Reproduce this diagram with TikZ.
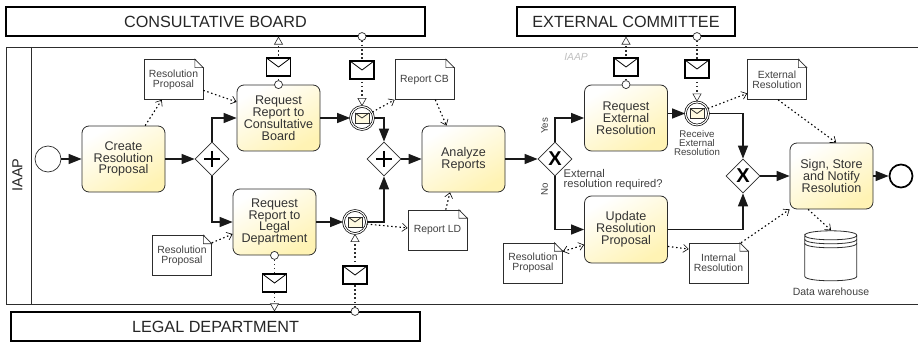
\documentclass[tikz,border=0pt]{standalone}
\usepackage{fontspec}
\setmainfont{Liberation Sans}
\usetikzlibrary{arrows.meta,shapes.geometric}

\definecolor{taskyellow}{RGB}{255,243,180}
\definecolor{linegray}{RGB}{45,45,45}

\tikzset{
    taskbox/.style={draw=linegray, line width=0.8pt, rounded corners=7pt, minimum width=83pt, minimum height=66pt,
        inner sep=0pt, align=center, top color=white, bottom color=taskyellow, shading angle=30,
        font=\fontsize{12.6}{11.9}\selectfont, text=black!80},
    docbox/.style={draw=linegray, line width=0.7pt, fill=white, minimum width=59pt, minimum height=40pt,
        inner sep=0pt, align=center, font=\fontsize{10.4}{10}\selectfont, text=black!75},
    poolbox/.style={draw=black, line width=1.1pt, fill=white, inner sep=0pt, minimum height=29pt,
        font=\fontsize{16.2}{17}\selectfont, text=black!85},
    gateway/.style={draw=linegray, line width=0.7pt, fill=white, diamond, aspect=1, inner sep=0pt, minimum size=34pt},
    plusgate/.style={gateway, path picture={
        \draw[line width=2pt, black] (path picture bounding box.center) ++(-8,0) -- ++(16,0);
        \draw[line width=2pt, black] (path picture bounding box.center) ++(0,-8) -- ++(0,16);}},
    xgate/.style={gateway, font=\bfseries\fontsize{20}{20}\selectfont},
    waitevent/.style={draw=black, circle, line width=0.7pt, double, double distance=1.1pt, fill=white, minimum size=23pt, inner sep=0pt},
    portcircle/.style={draw=linegray, line width=0.7pt, circle, fill=white, minimum size=8pt, inner sep=0pt},
    envelope/.style={draw=black, line width=1.1pt, fill=white, minimum width=24pt, minimum height=18pt, inner sep=0pt, path picture={
        \draw[line width=0.8pt] (path picture bounding box.north west) -- (path picture bounding box.center) -- (path picture bounding box.north east);}},
    smallenvelope/.style={envelope, draw=linegray, line width=0.5pt, fill=taskyellow!40, minimum width=14pt, minimum height=10pt},
    smalltext/.style={inner sep=0pt, align=center, font=\fontsize{9.7}{9.2}\selectfont, text=black!75},
    seqflow/.style={line width=1.2pt, draw=black!90, -{Triangle[length=13pt,width=10pt]}},
    dataflow/.style={line width=1.1pt, dash pattern=on 1.5pt off 2.6pt, -{Straight Barb[length=5pt,width=8pt,line width=0.6pt]}},
    msgflow/.style={line width=1.1pt, dash pattern=on 1.5pt off 2.6pt, draw=linegray, -{Triangle[open,fill=white,length=8pt,width=9pt,line width=0.6pt]}}
}

% a document with a folded corner: name, position, text
\newcommand{\docnode}[3]{
    \node[docbox] (#1) at (#2) {#3};
    \fill[white] (#1.north east) ++(-8.5,-1) -- ++(9.5,0) -- ++(0,10) -- cycle;
    \draw[line width=0.7pt, draw=linegray] (#1.north east) ++(-8.5,0) -- ++(8.5,8.5) -- ++(-8.5,0) -- cycle;
}

\begin{document}
\begin{tikzpicture}[x=1pt,y=-1pt]
    \useasboundingbox (0,0) rectangle (918,342);

    % Draw the pool and the outer participants
    \draw[line width=0.9pt, draw=linegray] (918,47) -- (6,47) -- (6,304) -- (918,304);
    \draw[line width=0.9pt, draw=linegray] (31,47) -- (31,304);
    \node[rotate=90, font=\fontsize{14.5}{15}\selectfont, text=black!85] (pooltitle) at (17.5,175) {IAAP};
    \node[font=\itshape\fontsize{10.3}{11}\selectfont, text=black!25] (lanelabel) at (576,56.5) {IAAP};
    \node[poolbox, minimum width=419pt] (board) at (215.5,21.5) {CONSULTATIVE BOARD};
    \node[poolbox, minimum width=409pt] (legal) at (215.5,326.5) {LEGAL DEPARTMENT};
    \node[poolbox, minimum width=218pt] (committee) at (626,21.5) {EXTERNAL COMMITTEE};

    % Draw the tasks
    \node[taskbox] (create) at (123.5,159) {Create\\Resolution\\Proposal};
    \node[taskbox] (reqboard) at (278.5,118) {Request\\Report to\\Consultative\\Board};
    \node[taskbox] (reqlegal) at (274.5,222) {Request\\Report to\\Legal\\Department};
    \node[taskbox] (analyze) at (463.5,159) {Analyze\\Reports};
    \node[taskbox] (reqexternal) at (626,118) {Request\\External\\Resolution};
    \node[taskbox, minimum height=67pt] (update) at (626,229.5) {Update\\Resolution\\Proposal};
    \node[taskbox] (sign) at (831.5,176) {Sign, Store\\and Notify\\Resolution};

    % Draw the events and the gateways
    \node[draw=linegray, line width=0.7pt, circle, minimum size=26pt, inner sep=0pt] (start) at (48,159) {};
    \node[draw=black, line width=1.7pt, circle, minimum size=23pt, inner sep=0pt] (end) at (901,176) {};
    \node[plusgate] (split) at (212,159) {};
    \node[plusgate] (join) at (384,159) {};
    \node[xgate] (decide) at (555,159) {X};
    \node[xgate] (merge) at (743,176) {X};
    \node[waitevent] (evboard) at (362,118) {};
    \node[waitevent] (evlegal) at (355,222) {};
    \node[waitevent] (evexternal) at (697,113.5) {};
    \node[smallenvelope] (evboardicon) at (362,118) {};
    \node[smallenvelope] (evlegalicon) at (355,222) {};
    \node[smallenvelope] (evexternalicon) at (697,113.5) {};

    % Draw the sequence flows
    \draw[seqflow] (start) -- (create);
    \draw[seqflow] (create) -- (split);
    \draw[seqflow] (split.north) |- (reqboard.west);
    \draw[seqflow] (split.south) |- (reqlegal.west);
    \draw[seqflow] (reqboard) -- (evboard);
    \draw[seqflow] (reqlegal) -- (evlegal);
    \draw[seqflow] (evboard.east) -| (join.north);
    \draw[seqflow] (evlegal.east) -| (join.south);
    \draw[seqflow] (join) -- (analyze);
    \draw[seqflow] (analyze) -- (decide);
    \draw[seqflow] (decide.north) |- (reqexternal.west);
    \draw[seqflow] (decide.south) |- (update.west);
    \draw[seqflow] (reqexternal.east |- evexternal.west) -- (evexternal.west);
    \draw[seqflow] (evexternal.east) -| (merge.north);
    \draw[seqflow] (update.east) -| (merge.south);
    \draw[seqflow] (merge) -- (sign);
    \draw[seqflow] (sign) -- (end);

    % Draw the ports of the message flows
    \node[portcircle] (portboardout) at (reqboard.north) {};
    \node[portcircle] (portlegalout) at (reqlegal.south) {};
    \node[portcircle] (portexternalout) at (reqexternal.north) {};
    \node[portcircle] (portboardin) at (board.south -| evboard) {};
    \node[portcircle] (portlegalin) at (legal.north -| evlegal) {};
    \node[portcircle] (portexternalin) at (committee.south -| evexternal) {};

    % Draw the message flows
    \draw[msgflow] (portboardout) -- (portboardout |- board.south);
    \draw[msgflow] (portboardin) -- (evboard.north);
    \draw[msgflow] (portlegalout) -- (portlegalout |- legal.north);
    \draw[msgflow] (portlegalin) -- (evlegal.south);
    \draw[msgflow] (portexternalout) -- (portexternalout |- committee.south);
    \draw[msgflow] (portexternalin) -- (evexternal.north);

    % Draw the envelopes
    \node[envelope] (msgboardout) at (278.5,67) {};
    \node[envelope] (msgboardin) at (362,70) {};
    \node[envelope] (msglegalout) at (274.5,283) {};
    \node[envelope] (msglegalin) at (355,275) {};
    \node[envelope] (msgexternalout) at (626,67) {};
    \node[envelope] (msgexternalin) at (697,69) {};

    % Draw the documents
    \docnode{propfirst}{173.5,79.5}{Resolution\\Proposal}
    \docnode{reportboard}{424.5,79.5}{Report CB}
    \docnode{propsecond}{182,255.5}{Resolution\\Proposal}
    \docnode{reportlegal}{437.5,230}{Report LD}
    \docnode{resexternal}{777,79.5}{External\\Resolution}
    \docnode{propthird}{533,263}{Resolution\\Proposal}
    \docnode{resinternal}{718.5,263}{Internal\\Resolution}

    % Draw the data warehouse
    \node[minimum width=52pt, minimum height=50pt, inner sep=0pt] (warehouse) at (831,255.5) {};
    \draw[line width=0.8pt, draw=linegray] (warehouse.north west) ++(0,5)
        .. controls +(0,-6) and +(0,-6) .. ++(52,0)
        .. controls +(0,6) and +(0,6) .. ++(-52,0) -- ++(0,41)
        .. controls +(0,6) and +(0,6) .. ++(52,0) -- ++(0,-41);
    \draw[line width=0.8pt, draw=linegray] (warehouse.north west) ++(0,9) .. controls +(0,6) and +(0,6) .. ++(52,0);
    \draw[line width=0.8pt, draw=linegray] (warehouse.north west) ++(0,13) .. controls +(0,6) and +(0,6) .. ++(52,0);

    % Draw the data flows
    \draw[dataflow] (create.57) -- (propfirst.240);
    \draw[dataflow] (propfirst.-20) -- (reqboard.159);
    \draw[dataflow] (evboard.30) -- (reportboard.south west);
    \draw[dataflow] (reportboard.-62) -- (analyze.117);
    \draw[dataflow] (propsecond.23) -- (reqlegal.196);
    \draw[dataflow] (evlegal.-10) -- (reportlegal.176);
    \draw[dataflow] (reportlegal.68) -- (analyze.248);
    \draw[dataflow] (evexternal.25) -- (resexternal.205);
    \draw[dataflow] (resexternal.-87) -- (sign.82);
    \draw[dataflow, {Straight Barb[length=5pt,width=8pt,line width=0.6pt]}-{Straight Barb[length=5pt,width=8pt,line width=0.6pt]}] (propthird.21) -- (update.200);
    \draw[dataflow] (update.-22) -- (resinternal.155);
    \draw[dataflow] (resinternal.42) -- (sign.south west);
    \draw[dataflow] (sign.235) -- (warehouse.north);

    % Draw the labels
    \node[smalltext] (evexternallabel) at (697,143) {Receive\\External\\Resolution};
    \node[smalltext, font=\fontsize{10.5}{10}\selectfont] (warehouselabel) at (831,291.5) {Data warehouse};
    \node[smalltext, rotate=90] (yeslabel) at (544.5,126) {Yes};
    \node[smalltext, rotate=90] (nolabel) at (544.5,189) {No};
    \node[smalltext, anchor=west, align=left, font=\fontsize{11.2}{9.8}\selectfont] (decidelabel) at (563.5,179.5) {External\\resolution required?};
\end{tikzpicture}
\end{document}
